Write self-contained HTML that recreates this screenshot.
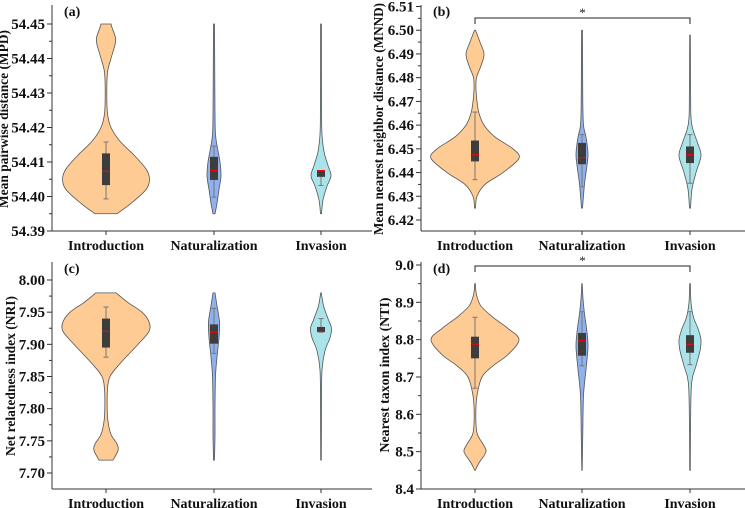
<!DOCTYPE html>
<html><head><meta charset="utf-8"><style>
html,body{margin:0;padding:0;background:#fff}
svg{display:block;font-family:"Liberation Serif",serif;font-weight:bold}
</style></head><body>
<svg id="c" width="745" height="508" viewBox="0 0 745 508"></svg>
<script>
const categories=["Introduction","Naturalization","Invasion"];
const colors=["#FDCB93","#8FB1EE","#ABE3EA"];
// panel a: MPD
const aIntroV=[54.395,54.398,54.402,54.405,54.408,54.412,54.416,54.420,54.424,54.430,54.436,54.440,54.444,54.446,54.449,54.450];
const aIntroW=[11,25,40,43.5,40,28,14,5,1.5,0.8,1.5,5,9,9.5,6,5];
const aNatV=[54.395,54.398,54.402,54.406,54.410,54.414,54.418,54.424,54.440,54.450];
const aNatW=[1,3,5,7,6,3.5,1.5,1,0.7,0.5];
const aInvV=[54.395,54.399,54.403,54.406,54.409,54.413,54.418,54.425,54.450];
const aInvW=[0.5,2,6,10,7,3,1,0.6,0.4];
const aBox=[[54.3993,54.4033,54.4073,54.4125,54.4158],[54.3998,54.4048,54.4075,54.4115,54.4146],[54.4032,54.4057,54.4075,54.4075,54.4075]];
const aTicks=[54.39,54.40,54.41,54.42,54.43,54.44,54.45];
// panel b: MNND
const bIntroV=[6.425,6.430,6.435,6.440,6.446,6.450,6.455,6.460,6.465,6.470,6.475,6.480,6.485,6.490,6.495,6.500];
const bIntroW=[0.5,2,10,28,44,38,20,9,4,2,1,1.5,6,9,5,0.5];
const bNatV=[6.425,6.435,6.443,6.448,6.455,6.460,6.470,6.490,6.500];
const bNatW=[0.5,2.5,5,6,4,1.5,0.8,0.6,0.4];
const bInvV=[6.425,6.433,6.440,6.447,6.452,6.458,6.463,6.475,6.498];
const bInvW=[0.5,2,6,11,8,3,1,0.6,0.3];
const bBox=[[6.437,6.4447,6.4475,6.4535,6.4655],[6.434,6.4435,6.4463,6.4525,6.456],[6.4355,6.444,6.4475,6.451,6.456]];
const bTicks=[6.42,6.43,6.44,6.45,6.46,6.47,6.48,6.49,6.50,6.51];
// panel c: NRI
const cIntroV=[7.72,7.735,7.745,7.76,7.78,7.80,7.83,7.85,7.87,7.90,7.92,7.935,7.95,7.965,7.98];
const cIntroW=[7,12,11,5,2,1.2,1.5,4,14,32,43,43,36,22,10];
const cNatV=[7.72,7.76,7.80,7.85,7.88,7.91,7.935,7.96,7.98];
const cNatW=[0.5,1,1,1.5,3,5,5.5,3,1];
const cInvV=[7.72,7.80,7.86,7.89,7.91,7.925,7.94,7.96,7.98];
const cInvW=[0.3,0.5,1,4,9,10.5,7,2.5,0.3];
const cBox=[[7.88,7.895,7.92,7.94,7.958],[7.886,7.901,7.919,7.931,7.956],[7.919,7.919,7.92,7.927,7.94]];
const cTicks=[7.70,7.75,7.80,7.85,7.90,7.95,8.00];
// panel d: NTI
const dIntroV=[8.45,8.47,8.50,8.52,8.55,8.60,8.65,8.70,8.73,8.76,8.80,8.83,8.86,8.89,8.92,8.95];
const dIntroW=[0.3,4,11,8,2,0.8,2,7,18,33,44,33,18,6,1.5,0.3];
const dNatV=[8.45,8.55,8.65,8.72,8.78,8.82,8.87,8.91,8.95];
const dNatW=[0.2,0.8,1.5,4,6,5,2.5,1,0.2];
const dInvV=[8.45,8.55,8.68,8.73,8.77,8.80,8.83,8.86,8.90,8.95];
const dInvW=[0.3,0.5,1.5,6,10,11,8,3.5,1,0.3];
const dBox=[[8.67,8.75,8.788,8.808,8.86],[8.73,8.757,8.797,8.818,8.875],[8.733,8.765,8.788,8.812,8.875]];
const dTicks=[8.4,8.5,8.6,8.7,8.8,8.9,9.0];

const svg=document.getElementById('c');
const NS='http://www.w3.org/2000/svg';
function mk(tag,attrs,parent,text){const e=document.createElementNS(NS,tag);for(const k in attrs)e.setAttribute(k,attrs[k]);if(text!==undefined)e.textContent=text;(parent||svg).appendChild(e);return e;}

function panel(o){
  const g=mk('g',{});
  
  
  const y=v=>o.y0+(v-o.v0)*(o.y1-o.y0)/(o.v1-o.v0);
  const xs=o.xs;
  o.violins.forEach((vw,i)=>{
    const [vals,ws]=vw;const cx=xs[i];
    const pts=[];
    for(let k=0;k<vals.length;k++)pts.push([cx+ws[k],y(vals[k])]);
    for(let k=vals.length-1;k>=0;k--)pts.push([cx-ws[k],y(vals[k])]);
    let d='M'+pts[0][0]+','+pts[0][1];
    const n=vals.length;
    for(let k=0;k<pts.length-1;k++){
      if(k===n-1){d+=' L'+pts[k+1][0]+','+pts[k+1][1];continue;}
      const p0=pts[(k>0&&k!==n)?k-1:k],p1=pts[k],p2=pts[k+1],p3=pts[(k+2<pts.length&&k+1!==n-1)?k+2:k+1];
      const c1=[p1[0]+(p2[0]-p0[0])/6,p1[1]+(p2[1]-p0[1])/6],c2=[p2[0]-(p3[0]-p1[0])/6,p2[1]-(p3[1]-p1[1])/6];
      d+=' C'+c1[0]+','+c1[1]+' '+c2[0]+','+c2[1]+' '+p2[0]+','+p2[1];
    }
    d+=' Z';
    const p=mk('path',{d:d,fill:colors[i],stroke:'#555','stroke-width':0.8},g);
    
    
    const b=o.box[i];
    const wl=mk('line',{x1:cx,x2:cx,y1:y(b[0]),y2:y(b[4]),stroke:'#777','stroke-width':1},g);
    
    
    [b[0],b[4]].forEach(v=>{mk('line',{x1:cx-2.5,x2:cx+2.5,y1:y(v),y2:y(v),stroke:'#777','stroke-width':1},g);});
    const r=mk('rect',{x:cx-4,y:y(b[3]),width:8,height:Math.max(1,y(b[1])-y(b[3])),fill:'#3d3d3d'},g);
    
    
    const m=mk('line',{x1:cx-4,x2:cx+4,y1:y(b[2]),y2:y(b[2]),stroke:'#ff0000','stroke-width':1.2},g);
    
    
  });
  const ax=o.ax, bottom=o.axisBottom;
  mk('line',{x1:ax,x2:ax,y1:o.axisTop,y2:bottom,stroke:'#333','stroke-width':1},g);
  mk('line',{x1:ax,x2:o.axisRight,y1:bottom,y2:bottom,stroke:'#333','stroke-width':1},g);
  o.ticks.forEach((t,k)=>{
    const ty=y(t);
    mk('line',{x1:ax-5,x2:ax,y1:ty,y2:ty,stroke:'#333','stroke-width':1},g);
    if(k<o.ticks.length-1){const my=y((t+o.ticks[k+1])/2);mk('line',{x1:ax-3,x2:ax,y1:my,y2:my,stroke:'#333','stroke-width':1},g);}
    const tl=mk('text',{x:ax-7,y:ty+5,'text-anchor':'end','font-size':15,fill:'#111'},g,t.toFixed(o.dec));
    
    
  });
  xs.forEach((cx,i)=>{
    mk('line',{x1:cx,x2:cx,y1:bottom,y2:bottom+4,stroke:'#333','stroke-width':1},g);
    const xl=mk('text',{x:cx,y:bottom+19,'text-anchor':'middle','font-size':14,fill:'#111'},g,categories[i]);
    
    
  });
  const yt=mk('text',{x:0,y:0,'text-anchor':'middle','font-size':14,fill:'#111',textLength:o.titleLen,lengthAdjust:'spacingAndGlyphs',transform:'translate('+o.titleX+','+o.titleY+') rotate(-90)'},g,o.title);
  
  
  const pl=mk('text',{x:ax+12,y:o.axisTop+11,'font-size':14,fill:'#111'},g,'('+o.id+')');
  
  
  if(o.sig){
    const by=o.sigY;
    mk('path',{d:'M'+xs[0]+','+(by+6)+' V'+by+' H'+xs[2]+' V'+(by+6),fill:'none',stroke:'#222','stroke-width':1},g);
    const st=mk('text',{x:(xs[0]+xs[2])/2,y:by-1,'text-anchor':'middle','font-size':13,fill:'#222','font-weight':'normal'},g,'*');
    
    
  }
}
panel({id:'a',ax:52,axisTop:5,axisBottom:231,axisRight:372,v0:54.39,y0:231,v1:54.45,y1:24,xs:[106,214,321],
  violins:[[aIntroV,aIntroW],[aNatV,aNatW],[aInvV,aInvW]],box:aBox,ticks:aTicks,dec:2,title:'Mean pairwise distance (MPD)',titleX:8,titleY:119,titleLen:178});
panel({id:'b',ax:421,axisTop:5,axisBottom:231,axisRight:745,v0:6.42,y0:220,v1:6.51,y1:6.5,xs:[475,582,690],
  violins:[[bIntroV,bIntroW],[bNatV,bNatW],[bInvV,bInvW]],box:bBox,ticks:bTicks,dec:2,title:'Mean nearest neighbor distance (MNND)',titleX:383,titleY:119,titleLen:232,sig:true,sigY:18});
panel({id:'c',ax:52,axisTop:262,axisBottom:489,axisRight:372,v0:7.70,y0:473,v1:8.00,y1:280,xs:[106,214,321],
  violins:[[cIntroV,cIntroW],[cNatV,cNatW],[cInvV,cInvW]],box:cBox,ticks:cTicks,dec:2,title:'Net relatedness index (NRI)',titleX:15,titleY:376,titleLen:160});
panel({id:'d',ax:421,axisTop:262,axisBottom:489,axisRight:745,v0:8.4,y0:489,v1:9.0,y1:265,xs:[475,582,690],
  violins:[[dIntroV,dIntroW],[dNatV,dNatW],[dInvV,dInvW]],box:dBox,ticks:dTicks,dec:1,title:'Nearest taxon index (NTI)',titleX:389,titleY:375,titleLen:155,sig:true,sigY:266});
</script>
</body></html>
